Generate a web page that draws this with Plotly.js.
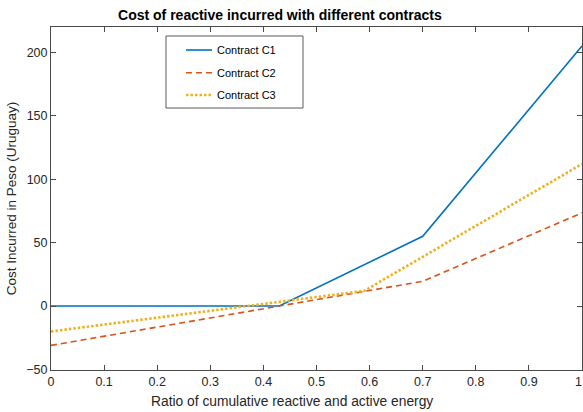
<!DOCTYPE html>
<html>
<head>
<meta charset="utf-8">
<script src="https://cdn.plot.ly/plotly-3.0.1.min.js"></script>
<style>html,body{margin:0;padding:0;background:#fff;}#chart{width:583px;height:412px;}</style>
</head>
<body>
<div id="chart"></div>
<script>
var xC1 = [0, 0.43, 0.7, 1];
var yC1 = [0, 0, 55, 205];
var xC2 = [0, 0.43, 0.7, 1];
var yC2 = [-31, -0.3, 19.5, 73.5];
var xC3 = [0, 0.43, 0.59, 1];
var yC3 = [-20, 3.5, 12, 112];
var xTicks = [0, 0.1, 0.2, 0.3, 0.4, 0.5, 0.6, 0.7, 0.8, 0.9, 1];
var xTickText = ['0', '0.1', '0.2', '0.3', '0.4', '0.5', '0.6', '0.7', '0.8', '0.9', '1'];
var yTicks = [-50, 0, 50, 100, 150, 200];
var names = ['Contract C1', 'Contract C2', 'Contract C3'];
var colors = ['#0072BD', '#D95319', '#EDB120'];
var widths = [1.6, 1.6, 2.6];
var dashes = ['solid', '6px,4px', '2.5px,2px'];

var font = 'Liberation Sans, Arial, Helvetica, sans-serif';
var axisColor = '#4a4a4a';

var xs = [xC1, xC2, xC3];
var ys = [yC1, yC2, yC3];
var traces = [];
for (var i = 0; i < 3; i++) {
  traces.push({x: xs[i], y: ys[i], name: names[i], mode: 'lines', showlegend: false,
    line: {color: colors[i], width: widths[i], dash: dashes[i]}});
}

// axis tick labels: the last one sits on the figure edge, so it is drawn right-anchored
var last = xTickText.length - 1;
var tickTextShown = xTickText.map(function (t, k) { return k === last ? '' : t; });

// custom legend box (paper coords), matching the reference placement
var lg = {x0: 0.2166, x1: 0.4746, y0: 0.7638, y1: 0.9738,
          sx0: 0.2542, sx1: 0.3032, tx: 0.3089, rows: [0.9329, 0.8668, 0.8017]};
var shapes = [{type: 'rect', xref: 'paper', yref: 'paper', x0: lg.x0, x1: lg.x1, y0: lg.y0, y1: lg.y1,
               line: {color: '#5a5a5a', width: 1}, fillcolor: '#fff', layer: 'above'}];
var annotations = [];
for (var j = 0; j < 3; j++) {
  shapes.push({type: 'line', xref: 'paper', yref: 'paper', x0: lg.sx0, x1: lg.sx1, y0: lg.rows[j], y1: lg.rows[j],
               line: {color: colors[j], width: widths[j], dash: dashes[j]}, layer: 'above'});
  annotations.push({xref: 'paper', yref: 'paper', x: lg.tx, y: lg.rows[j], xanchor: 'left', yanchor: 'middle',
                    text: names[j], showarrow: false, font: {family: font, size: 11, color: '#000'}});
}
annotations.push({xref: 'x', yref: 'paper', x: xTicks[last], y: -0.0125, xanchor: 'right', yanchor: 'top',
                  xshift: 1, text: xTickText[last], showarrow: false, borderpad: 0,
                  font: {family: font, size: 12.5, color: '#262626'}});
annotations.push({xref: 'paper', yref: 'paper', x: 0.454, y: -0.0904, xanchor: 'center', yanchor: 'middle',
                  text: 'Ratio of cumulative reactive and active energy', showarrow: false,
                  font: {family: font, size: 13.8, color: '#262626'}});

var layout = {
  width: 583, height: 412,
  margin: {l: 51, r: 1, t: 27, b: 42, pad: 0},
  paper_bgcolor: '#fff', plot_bgcolor: '#fff',
  font: {family: font, size: 12, color: '#262626'},
  title: {text: '<b>Cost of reactive incurred with different contracts</b>',
          font: {family: font, size: 14, color: '#000'},
          x: 0.431, xanchor: 'center', xref: 'paper', y: 0.9636, yanchor: 'middle', yref: 'container'},
  xaxis: {range: [0, 1], tickvals: xTicks, ticktext: tickTextShown,
          showgrid: false, zeroline: false, showline: true, mirror: 'ticks',
          linecolor: axisColor, linewidth: 1, ticks: 'inside', ticklen: 5, tickcolor: axisColor,
          tickfont: {family: font, size: 12.5, color: '#262626'}},
  yaxis: {range: [-50.4, 220], tickvals: yTicks,
          showgrid: false, zeroline: false, showline: true, mirror: 'ticks',
          linecolor: axisColor, linewidth: 1, ticks: 'inside', ticklen: 5, tickcolor: axisColor,
          tickfont: {family: font, size: 12.5, color: '#262626'},
          title: {text: 'Cost Incurred in Peso (Uruguay)', standoff: 6,
                  font: {family: font, size: 13.5, color: '#262626'}}},
  showlegend: false,
  shapes: shapes,
  annotations: annotations
};

Plotly.newPlot('chart', traces, layout, {staticPlot: true, displayModeBar: false});
</script>
</body>
</html>
